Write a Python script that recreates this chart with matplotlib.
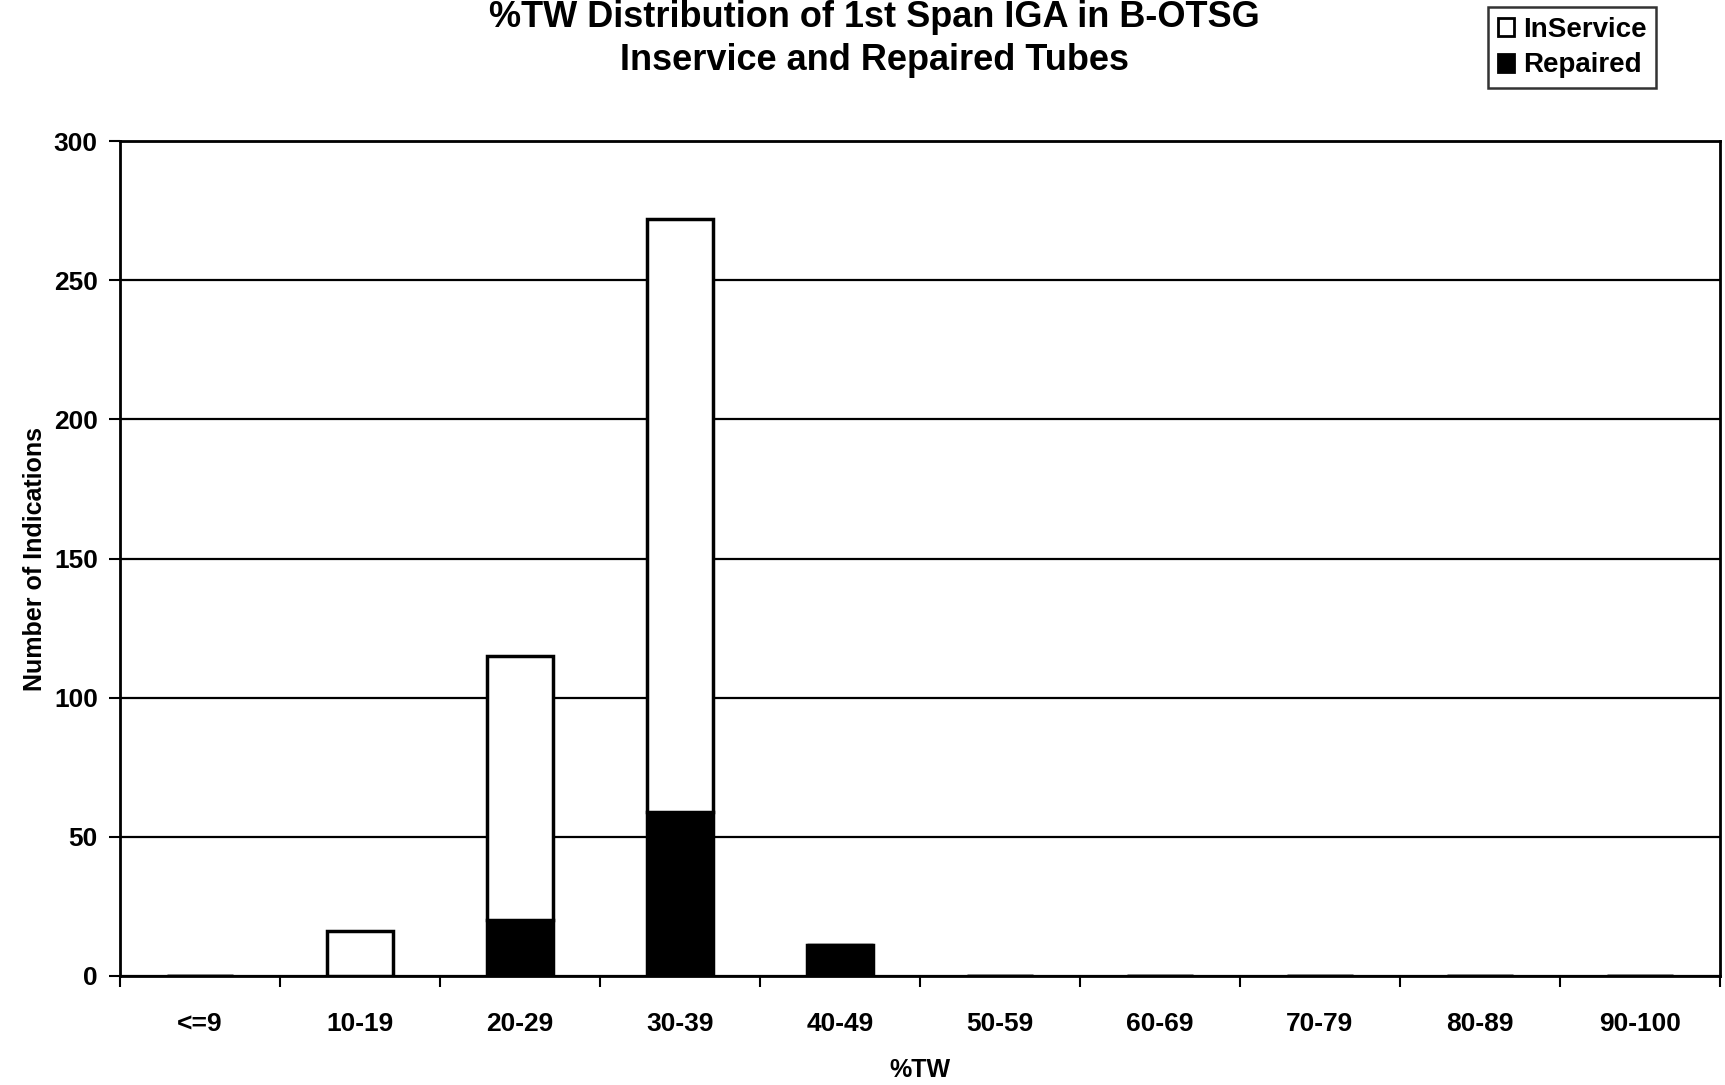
import matplotlib.pyplot as plt
from matplotlib.patches import Patch
import numpy as np

plt.rcParams['font.family'] = ['Liberation Sans', 'DejaVu Sans']
plt.rcParams['font.weight'] = 'bold'

# Data
categories = ['<=9', '10-19', '20-29', '30-39', '40-49',
              '50-59', '60-69', '70-79', '80-89', '90-100']
repaired = [0, 0, 20, 59, 11, 0, 0, 0, 0, 0]
inservice = [0, 16, 95, 213, 0, 0, 0, 0, 0, 0]
yticks = [0, 50, 100, 150, 200, 250, 300]

fig = plt.figure(figsize=(17.25, 10.85), dpi=100)
ax = fig.add_axes([0.0696, 0.1005, 0.9274, 0.7695])

x = np.arange(len(categories))
w = 0.41
ax.bar(x, repaired, w, color='black', edgecolor='black', linewidth=2.5, zorder=3)
ax.bar(x, inservice, w, bottom=repaired, color='white', edgecolor='black',
       linewidth=2.5, zorder=3)

ax.set_xlim(-0.5, len(categories) - 0.5)
ax.set_ylim(0, 300)
ax.set_yticks(yticks)
ax.set_xticks(x)
ax.set_xticklabels(categories)
ax.set_xticks(np.arange(len(categories) + 1) - 0.5, minor=True)
ax.tick_params(axis='x', which='major', length=0, pad=26, labelsize=19)
ax.tick_params(axis='x', which='minor', length=8, width=1.5, direction='out')
ax.tick_params(axis='y', length=8, width=1.5, pad=8, labelsize=19)
for lab in ax.get_xticklabels() + ax.get_yticklabels():
    lab.set_fontweight('bold')

ax.grid(axis='y', color='black', linewidth=1.6, zorder=0)
for s in ax.spines.values():
    s.set_linewidth(2)
    s.set_color('black')

ax.set_xlabel('%TW', fontsize=18, fontweight='bold', labelpad=16)
ax.set_ylabel('Number of Indications', fontsize=18, fontweight='bold', labelpad=5)

fig.text(0.507, 0.964, '%TW Distribution of 1st Span IGA in B-OTSG\nInservice and Repaired Tubes',
         ha='center', va='center', fontsize=26, fontweight='bold', linespacing=1.3)

handles = [Patch(facecolor='white', edgecolor='black', linewidth=2),
           Patch(facecolor='black', edgecolor='black', linewidth=2)]
leg = fig.legend(handles, ['InService', 'Repaired'], loc='upper left',
                 bbox_to_anchor=(0.8626, 0.9935), fontsize=20, frameon=True,
                 fancybox=False, edgecolor='black', handlelength=0.6,
                 handleheight=0.6, handletextpad=0.3, borderpad=0.35,
                 labelspacing=0.35, borderaxespad=0)
leg.get_frame().set_linewidth(1.8)
for t in leg.get_texts():
    t.set_fontweight('bold')

fig.savefig('out.png', dpi=100)
